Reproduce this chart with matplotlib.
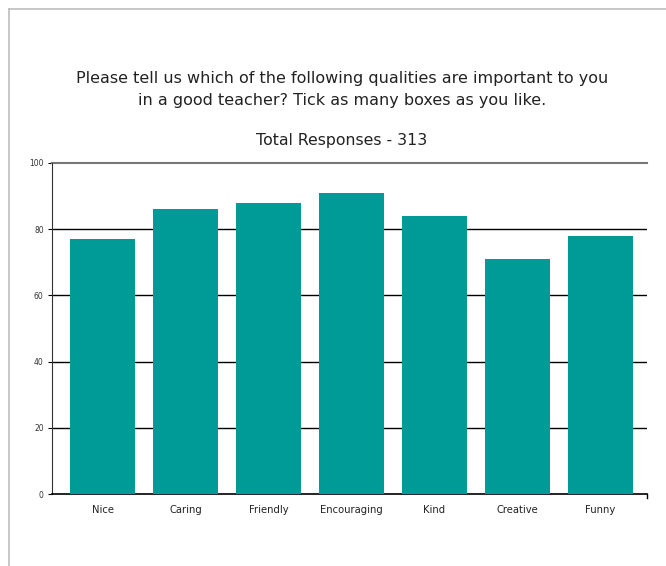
import matplotlib
matplotlib.use("Agg")
import matplotlib.pyplot as plt

plt.rcParams['font.family'] = ['DejaVu Sans']

categories = ["Nice", "Caring", "Friendly", "Encouraging", "Kind", "Creative", "Funny"]
values = [77, 86, 88, 91, 84, 71, 78]
yticks = [0, 20, 40, 60, 80, 100]

fig = plt.figure(figsize=(6.66, 5.66), dpi=100)
W, H = 666, 566

# gray frame (left and top edges visible)
fig.add_artist(plt.Line2D([9 / W, 9 / W], [0, 1 - 9 / H], color="#bdbdbd", lw=1.2))
fig.add_artist(plt.Line2D([9 / W, 1], [1 - 9 / H, 1 - 9 / H], color="#bdbdbd", lw=1.2))

ax = fig.add_axes([52 / W, 1 - 494 / H, (647 - 52) / W, (494 - 163) / H])

x = range(len(categories))
ax.bar(x, values, width=0.78, color="#009b96", zorder=3)

ax.set_ylim(0, 100)
ax.set_xlim(-0.61, 6.56)
ax.set_yticks(yticks)
ax.set_yticklabels([str(v) for v in yticks], fontsize=5.5, color="#333333")
ax.set_xticks(list(x))
ax.set_xticklabels(categories, fontsize=7.2, color="#222222")
ax.tick_params(axis="x", length=0, pad=8)
ax.tick_params(axis="y", length=3, width=0.8, pad=3)

for v in yticks[1:-1]:
    ax.axhline(v, color="black", lw=1.0, zorder=2)
ax.axhline(100, color="#777777", lw=1.5, zorder=2, clip_on=False)

for s in ["top", "right"]:
    ax.spines[s].set_visible(False)
ax.spines["left"].set_color("#333333")
ax.spines["bottom"].set_color("black")
ax.spines["bottom"].set_linewidth(1.2)
ax.plot([1, 1], [0, -0.012], transform=ax.transAxes, color="black", lw=1, clip_on=False)

fig.text(342 / W, 1 - 78 / H, "Please tell us which of the following qualities are important to you",
         ha="center", va="center", fontsize=11.5, color="#222222")
fig.text(342 / W, 1 - 100 / H, "in a good teacher? Tick as many boxes as you like.",
         ha="center", va="center", fontsize=11.5, color="#222222")
fig.text(342 / W, 1 - 141 / H, "Total Responses - 313",
         ha="center", va="center", fontsize=11.3, color="#222222")

fig.savefig("out.png", dpi=100)
